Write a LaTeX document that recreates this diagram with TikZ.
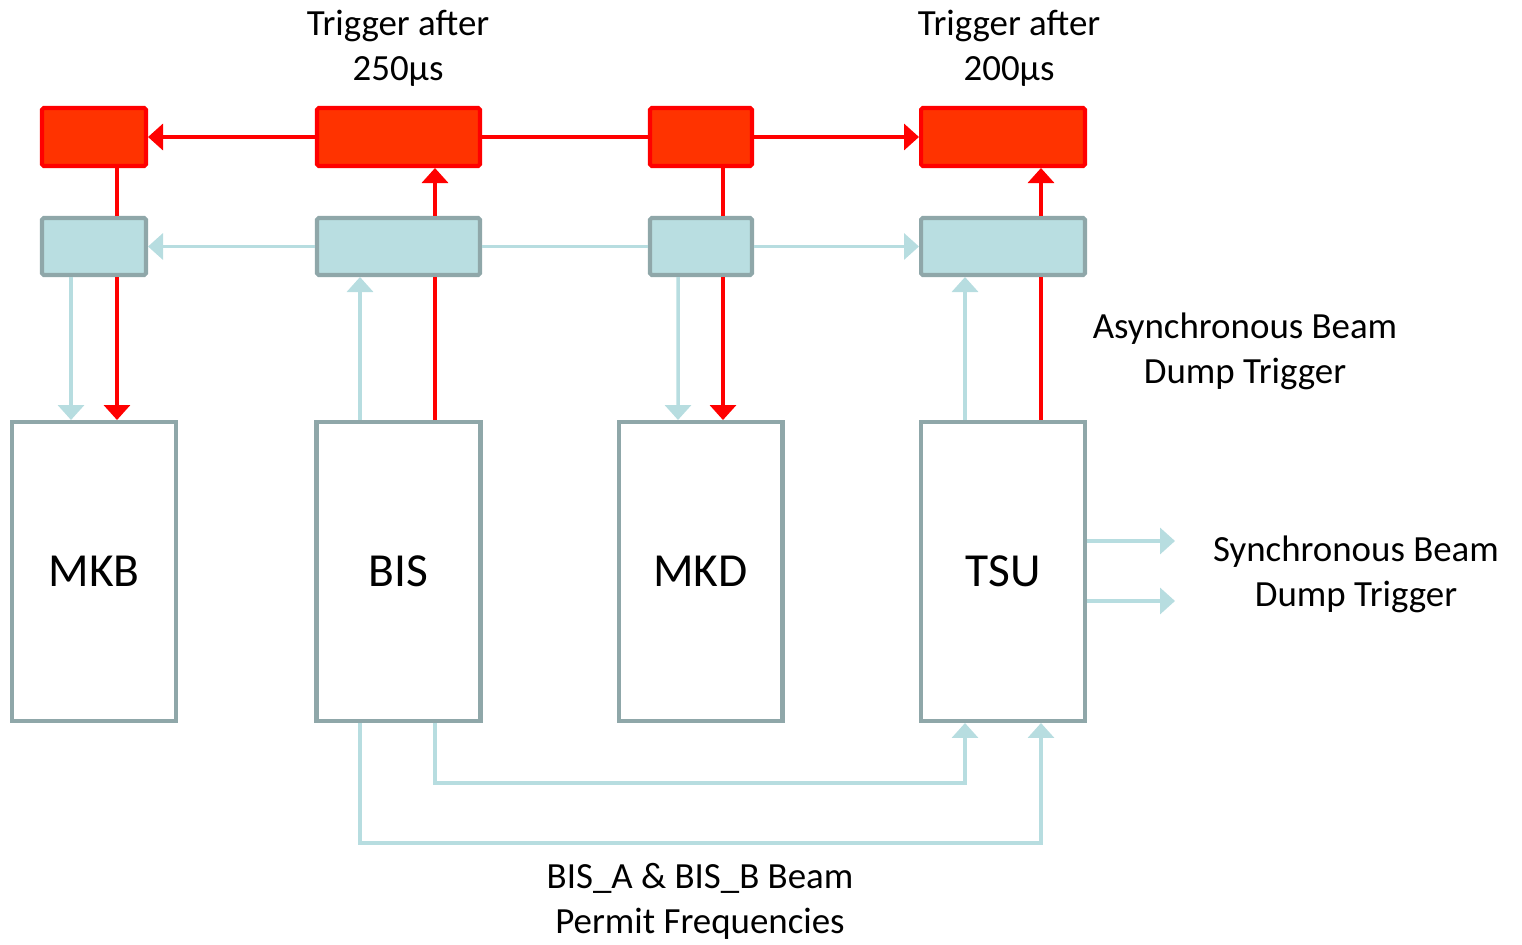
\documentclass[tikz,border=0pt]{standalone}
\usepackage{fontspec}
\setmainfont{Carlito}
\usepackage{tikz}
\usetikzlibrary{arrows.meta, positioning}
\definecolor{trigred}{RGB}{255,0,0}
\definecolor{trigfill}{RGB}{255,51,0}
\definecolor{permblue}{RGB}{183,221,224}
\definecolor{permfill}{RGB}{185,222,225}
\definecolor{boxgray}{RGB}{143,167,169}
\tikzset{
  redbox/.style={rectangle, draw=trigred, fill=trigfill, minimum height=1.16cm,
    line width=2.3pt, rounded corners=1pt, inner sep=0pt},
  bluebox/.style={rectangle, draw=boxgray, fill=permfill, minimum height=1.14cm,
    line width=2.3pt, rounded corners=1pt, inner sep=0pt},
  unit/.style={rectangle, draw=boxgray, fill=white, minimum width=3.28cm,
    minimum height=5.98cm, line width=2.3pt, font=\fontsize{27}{32}\selectfont},
  redarrow/.style={-{Triangle[width=0.52cm, length=0.3cm]}, line width=2pt, color=trigred},
  redline/.style={line width=2pt, color=trigred},
  bluearrow/.style={-{Triangle[width=0.52cm, length=0.3cm]}, line width=2pt, color=permblue},
  blueline/.style={line width=2pt, color=permblue},
  lbl/.style={align=center, inner sep=0pt, font=\fontsize{21}{25.6}\selectfont}
}

\begin{document}
\begin{tikzpicture}[x=0.02cm, y=-0.02cm]
    \useasboundingbox (0,0) rectangle (1522,945);

    % Trigger row
    \node[redbox, minimum width=2.08cm] (rmkb) at (94,137) {};
    \node[redbox, minimum width=3.26cm] (rbis) at (398.5,137) {};
    \node[redbox, minimum width=2.04cm] (rmkd) at (701,137) {};
    \node[redbox, minimum width=3.28cm] (rtsu) at (1003,137) {};

    % Permit row
    \node[bluebox, minimum width=2.08cm] (bmkb) at (94,246.5) {};
    \node[bluebox, minimum width=3.26cm] (bbis) at (398.5,246.5) {};
    \node[bluebox, minimum width=2.04cm] (bmkd) at (701,246.5) {};
    \node[bluebox, minimum width=3.28cm] (btsu) at (1003,246.5) {};

    % Units
    \node[unit] (mkb) at (94,571.5) {MKB};
    \node[unit] (bis) at (398.5,571.5) {BIS};
    \node[unit] (mkd) at (700.5,571.5) {MKD};
    \node[unit] (tsu) at (1003,571.5) {TSU};

    % Horizontal links
    \draw[redline] (rmkd.west) -- (rbis.east);
    \draw[redarrow] (rbis.west) -- (rmkb.east);
    \draw[redarrow] (rmkd.east) -- (rtsu.west);
    \draw[blueline] (bmkd.west) -- (bbis.east);
    \draw[bluearrow] (bbis.west) -- (bmkb.east);
    \draw[bluearrow] (bmkd.east) -- (btsu.west);

    % MKB
    \draw[redline] ([xshift=0.46cm]rmkb.south) -- ([xshift=0.46cm]bmkb.north);
    \draw[redarrow] ([xshift=0.46cm]bmkb.south) -- ([xshift=0.46cm]mkb.north);
    \draw[bluearrow] ([xshift=-0.46cm]bmkb.south) -- ([xshift=-0.46cm]mkb.north);

    % BIS
    \draw[redline] ([xshift=0.73cm]bis.north) -- ([xshift=0.73cm]bbis.south);
    \draw[redarrow] ([xshift=0.73cm]bbis.north) -- ([xshift=0.73cm]rbis.south);
    \draw[bluearrow] ([xshift=-0.77cm]bis.north) -- ([xshift=-0.77cm]bbis.south);

    % MKD
    \draw[redline] ([xshift=0.44cm]rmkd.south) -- ([xshift=0.44cm]bmkd.north);
    \draw[redarrow] ([xshift=0.44cm]bmkd.south) -- ([xshift=0.45cm]mkd.north);
    \draw[bluearrow] ([xshift=-0.46cm]bmkd.south) -- ([xshift=-0.45cm]mkd.north);

    % TSU
    \draw[redline] ([xshift=0.76cm]tsu.north) -- ([xshift=0.76cm]btsu.south);
    \draw[redarrow] ([xshift=0.76cm]btsu.north) -- ([xshift=0.76cm]rtsu.south);
    \draw[bluearrow] ([xshift=-0.76cm]tsu.north) -- ([xshift=-0.76cm]btsu.south);

    % Beam permit frequencies
    \draw[bluearrow] ([xshift=0.73cm]bis.south) -- ++(0,-1.2cm) -| ([xshift=-0.76cm]tsu.south);
    \draw[bluearrow] ([xshift=-0.77cm]bis.south) -- ++(0,-2.4cm) -| ([xshift=0.76cm]tsu.south);

    % Synchronous outputs
    \coordinate (synca) at (1175,541);
    \coordinate (syncb) at (1175,601);
    \draw[bluearrow] (tsu.east |- synca) -- (synca);
    \draw[bluearrow] (tsu.east |- syncb) -- (syncb);

    % Labels
    \node[lbl] (trigbis) at (398,48) {Trigger after\\250µs};
    \node[lbl] (trigtsu) at (1009,48) {Trigger after\\200µs};
    \node[lbl] (async) at (1245,351) {Asynchronous Beam\\Dump Trigger};
    \node[lbl] (sync) at (1356,574) {Synchronous Beam\\Dump Trigger};
    \node[lbl] (freq) at (700,901) {BIS\_A \& BIS\_B Beam\\Permit Frequencies};
  \end{tikzpicture}
\end{document}
